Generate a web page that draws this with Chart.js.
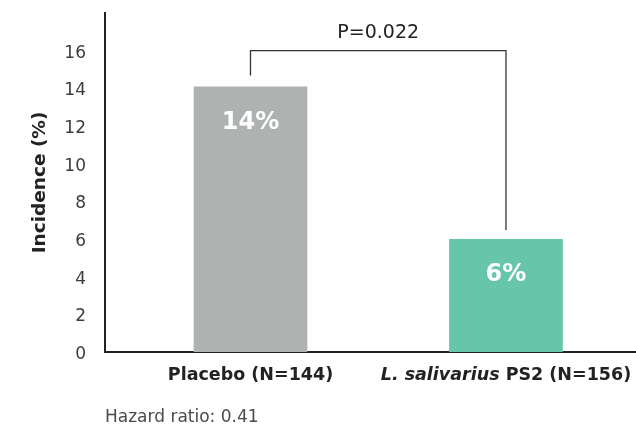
<!DOCTYPE html>
<html>
<head>
<meta charset="utf-8">
<script src="https://cdn.jsdelivr.net/npm/chart.js@4.4.1/dist/chart.umd.min.js"></script>
<style>
  html, body { margin: 0; padding: 0; background: #ffffff; }
  #wrap { width: 636px; height: 428px; position: relative; }
</style>
</head>
<body>
<div id="wrap"><canvas id="c"></canvas></div>
<script>
// ---- data ----
const categories = ['Placebo (N=144)', 'L. salivarius PS2 (N=156)'];
const categoryItalicPart = ['', 'L. salivarius'];
const incidence = [14.1, 6];
const barLabels = ['14%', '6%'];
const yTicks = [0, 2, 4, 6, 8, 10, 12, 14, 16];
const pValueText = 'P=0.022';
const bracketLevel = 16.0;
const footnote = 'Hazard ratio: 0.41';
const yTitle = 'Incidence (%)';

const barColors = ['#aeb3b2', '#67c6aa'];
const FONT = "'DejaVu Sans', sans-serif";

const points = incidence.map((v, i) => ({ x: i, y: v }));

const annotate = {
  id: 'annotate',
  afterDatasetsDraw(chart) {
    const ctx = chart.ctx;
    const meta = chart.getDatasetMeta(0);
    const bars = meta.data;
    const y = chart.scales.y;
    const area = chart.chartArea;
    ctx.save();
    // bar value labels
    ctx.fillStyle = '#ffffff';
    ctx.font = `bold 24px ${FONT}`;
    ctx.textAlign = 'center';
    ctx.textBaseline = 'middle';
    bars.forEach((b, i) => { ctx.fillText(barLabels[i], b.x, b.y + 36); });

    // bracket
    const yTop = y.getPixelForValue(bracketLevel);
    ctx.strokeStyle = '#333333';
    ctx.lineWidth = 1.3;
    ctx.beginPath();
    ctx.moveTo(bars[0].x, bars[0].y - 11);
    ctx.lineTo(bars[0].x, yTop);
    ctx.lineTo(bars[1].x, yTop);
    ctx.lineTo(bars[1].x, bars[1].y - 9);
    ctx.stroke();

    ctx.fillStyle = '#222222';
    ctx.font = `normal 19px ${FONT}`;
    ctx.fillText(pValueText, (bars[0].x + bars[1].x) / 2, yTop - 18);

    // x category labels
    const ly = area.bottom + 23.5;
    bars.forEach((b, i) => {
      const full = categories[i];
      const it = categoryItalicPart[i];
      const rest = it ? full.slice(it.length) : full;
      ctx.font = `italic bold 17.5px ${FONT}`;
      const w1 = it ? ctx.measureText(it).width : 0;
      ctx.font = `bold 17.5px ${FONT}`;
      const w2 = ctx.measureText(rest).width;
      let x0 = b.x - (w1 + w2) / 2;
      ctx.textAlign = 'left';
      ctx.fillStyle = '#222222';
      if (it) {
        ctx.font = `italic bold 17.5px ${FONT}`;
        ctx.fillText(it, x0, ly);
        x0 += w1;
      }
      ctx.font = `bold 17.5px ${FONT}`;
      ctx.fillText(rest, x0, ly);
    });

    // footnote
    ctx.textAlign = 'left';
    ctx.font = `normal 17px ${FONT}`;
    ctx.fillStyle = '#4a4a4a';
    ctx.fillText(footnote, area.left, area.bottom + 66);
    ctx.restore();
  }
};

new Chart(document.getElementById('c'), {
  type: 'bar',
  data: {
    datasets: [{
      data: points,
      backgroundColor: barColors,
      borderWidth: 0,
      categoryPercentage: 0.445,
      barPercentage: 1
    }]
  },
  options: {
    responsive: true,
    maintainAspectRatio: false,
    animation: false,
    events: [],
    layout: { padding: { top: 13, right: 0, bottom: 0, left: 0 } },
    plugins: { legend: { display: false }, tooltip: { enabled: false } },
    scales: {
      x: {
        type: 'linear',
        offset: false,
        min: -0.5695,
        max: 1.509,
        afterBuildTicks: s => { s.ticks = incidence.map((v, i) => ({ value: i })); },
        afterFit: s => { s.height = 76; s.paddingLeft = 0; s.paddingRight = 0; },
        ticks: { display: false },
        grid: { display: false, drawTicks: false },
        border: { display: true, color: '#222222', width: 2 }
      },
      y: {
        min: 0,
        max: 18,
        afterBuildTicks: s => { s.ticks = yTicks.map(v => ({ value: v })); },
        afterFit: s => { s.width = 105; s.paddingTop = 0; s.paddingBottom = 0; },
        ticks: {
          font: { family: FONT, size: 17, weight: 'normal' },
          color: '#3c3c3c',
          padding: 19,
          labelOffset: 2.5
        },
        grid: { display: false, drawTicks: false },
        border: { display: true, color: '#222222', width: 2 },
        title: {
          display: true,
          text: yTitle,
          font: { family: FONT, size: 18.5, weight: 'bold' },
          color: '#222222',
          padding: { top: 29, bottom: 0 }
        }
      }
    }
  },
  plugins: [annotate]
});
</script>
</body>
</html>
